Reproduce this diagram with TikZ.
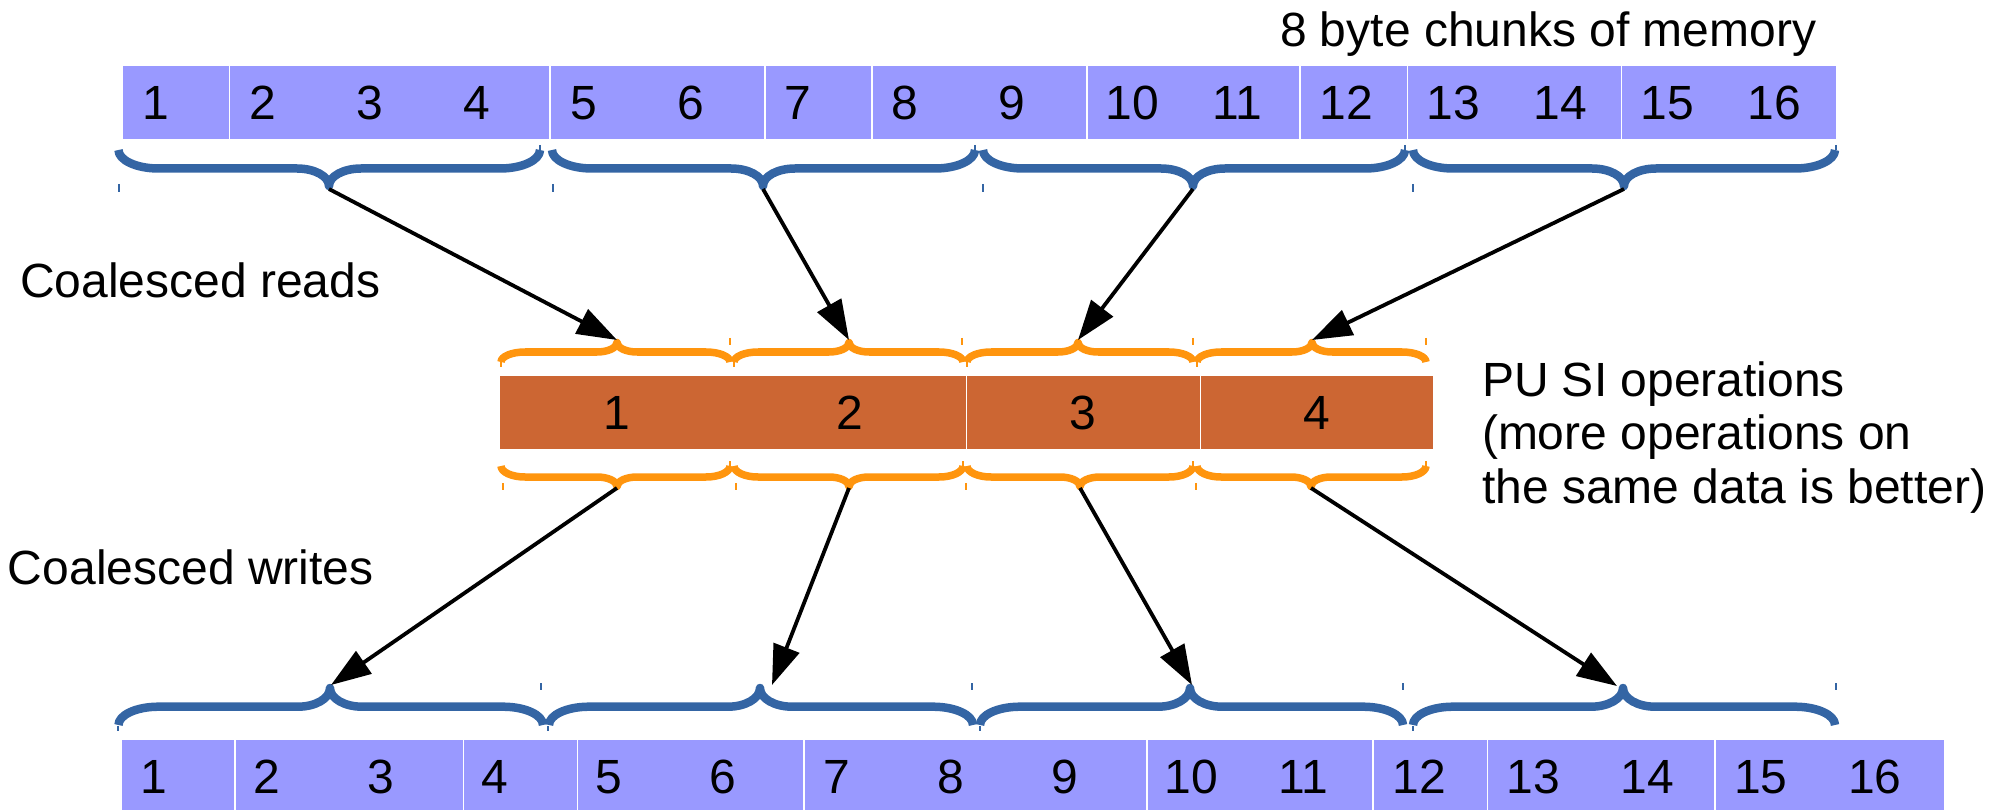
\documentclass[tikz,border=0pt]{standalone}
\usepackage{fontspec}
\setmainfont{Liberation Sans}
\usetikzlibrary{arrows.meta}
\definecolor{cellblue}{HTML}{9999FF}
\definecolor{pubar}{HTML}{CC6633}
\definecolor{bracblue}{HTML}{3465A4}
\definecolor{bracorange}{HTML}{FF950E}
% brace: style, xl, xtip, xr, yend, ymid, ytip, rend, rtip
\newcommand\brc[9]{%
  \draw[#1] (#2,#5) .. controls (#2,{#5+0.552*(#6-#5)}) and ({#2+0.448*#8},#6) .. ({#2+#8},#6)
    -- ({#3-#9},#6) .. controls ({#3-0.448*#9},#6) and (#3,{#6+0.448*(#7-#6)}) .. (#3,#7)
    .. controls (#3,{#6+0.448*(#7-#6)}) and ({#3+0.448*#9},#6) .. ({#3+#9},#6)
    -- ({#4-#8},#6) .. controls ({#4-0.448*#8},#6) and (#4,{#5+0.552*(#6-#5)}) .. (#4,#5);}
\begin{document}
\begin{tikzpicture}[x=1pt,y=-1pt,
  every node/.style={inner sep=0pt,outer sep=0pt,font=\fontsize{48}{53.3}\selectfont},
  bluebrace/.style={draw=bracblue,line width=8.5pt,line join=round},
  orangebrace/.style={draw=bracorange,line width=7.5pt,line join=round},
  bluetick/.style={draw=bracblue,line width=1.5pt},
  orangetick/.style={draw=bracorange,line width=1.5pt},
  divider/.style={draw=white,line width=1.2pt},
  arr/.style={draw=black,line width=3.8pt,-{Triangle[length=40pt,width=27pt]}}]
\useasboundingbox (0,0) rectangle (2011,810);

% ---------- top memory bar ----------
\fill[cellblue] (123,66) rectangle (1836,139);
\foreach \x in {229.5,550,765,872,1087,1300,1407.5,1621.5}
  \draw[divider] (\x,66) -- (\x,139);
\foreach \k in {1,...,16}
  \node[anchor=base west] (top\k) at ({123+107.06*(\k-1)+19},120) {\k};

% ---------- bottom memory bar ----------
\fill[cellblue] (122,740) rectangle (1944,813);
\foreach \x in {235,463.5,577.7,804,1147,1373,1487.4,1715}
  \draw[divider] (\x,740) -- (\x,813);
\foreach \k in {1,...,16}
  \node[anchor=base west] (bot\k) at ({122+113.875*(\k-1)+18},793) {\k};

% ---------- middle PU bar ----------
\fill[pubar] (500,376) rectangle (1433,449);
\foreach \x in {966.6,1200.6}
  \draw[divider] (\x,376) -- (\x,449);
\foreach \k in {1,...,4}
  \node[anchor=base] (pu\k) at ({500+233.25*(\k-0.5)},429) {\k};

% ---------- top blue braces (pointing down) ----------
\brc{bluebrace}{118.5}{329}{540}{150}{168.5}{186}{40}{32}
\brc{bluebrace}{552}{763}{975}{150}{168.5}{186}{40}{32}
\brc{bluebrace}{983}{1193}{1405}{150}{168.5}{186}{40}{32}
\brc{bluebrace}{1413}{1624}{1835}{150}{168.5}{186}{40}{32}
\foreach \x in {119,553,983,1413} \draw[bluetick] (\x,184) -- (\x,192);
\foreach \x in {540,975,1405,1836} \draw[bluetick] (\x,145) -- (\x,150);

% ---------- bottom blue braces (pointing up) ----------
\brc{bluebrace}{118.5}{330}{543}{725}{706.7}{688}{40}{32}
\brc{bluebrace}{549}{760}{973}{725}{706.7}{688}{40}{32}
\brc{bluebrace}{980}{1190}{1403}{725}{706.7}{688}{40}{32}
\brc{bluebrace}{1413}{1623}{1835}{725}{706.7}{688}{40}{32}
\foreach \x in {541,972,1403,1836} \draw[bluetick] (\x,683) -- (\x,690);
\foreach \x in {118,548,980,1413} \draw[bluetick] (\x,726) -- (\x,731);

% ---------- orange braces above PU bar (pointing up) ----------
\brc{orangebrace}{501}{617}{730}{362}{352}{342.5}{24}{20}
\brc{orangebrace}{734}{849}{963}{362}{352}{342.5}{24}{20}
\brc{orangebrace}{967}{1078}{1193}{362}{352}{342.5}{24}{20}
\brc{orangebrace}{1197}{1312}{1426}{362}{352}{342.5}{24}{20}
\foreach \x in {730,962,1193,1426} \draw[orangetick] (\x,338) -- (\x,345);
\foreach \x in {501,734,967,1197} \draw[orangetick] (\x,362) -- (\x,367);

% ---------- orange braces below PU bar (pointing down) ----------
\brc{orangebrace}{501}{617}{730}{466}{477}{486.5}{24}{20}
\brc{orangebrace}{734}{849}{963}{466}{477}{486.5}{24}{20}
\brc{orangebrace}{967}{1080}{1193}{466}{477}{486.5}{24}{20}
\brc{orangebrace}{1197}{1311}{1426}{466}{477}{486.5}{24}{20}
\foreach \x in {503,736,966,1196} \draw[orangetick] (\x,483) -- (\x,490);
\foreach \x in {730,963,1193,1426} \draw[orangetick] (\x,461) -- (\x,466);

% ---------- brace tips ----------
\coordinate (rt1) at (329,189);  \coordinate (rt2) at (763,189);
\coordinate (rt3) at (1193,189); \coordinate (rt4) at (1624,189);
\coordinate (ri1) at (617,340);  \coordinate (ri2) at (849,340);
\coordinate (ri3) at (1078,340); \coordinate (ri4) at (1312,340);
\coordinate (wo1) at (617,488);  \coordinate (wo2) at (849,488);
\coordinate (wo3) at (1080,488); \coordinate (wo4) at (1311,488);
\coordinate (wi1) at (331,685);  \coordinate (wi2) at (772,685);
\coordinate (wi3) at (1192,685); \coordinate (wi4) at (1617,686);

% ---------- arrows ----------
\foreach \i in {1,...,4} {
  \draw[arr] (rt\i) -- (ri\i);
  \draw[arr] (wo\i) -- (wi\i);
}

% ---------- labels ----------
\node[anchor=base west] (memlabel) at (1280,47) {8 byte chunks of memory};
\node[anchor=base west] (readslabel) at (20,298) {Coalesced reads};
\node[anchor=base west] (writeslabel) at (8,584) {Coalesced writes};
\node[anchor=base west,align=left] (pulabel) at (1482,503)
  {PU SI operations\\(more operations on\\the same data is better)};
\end{tikzpicture}
\end{document}
